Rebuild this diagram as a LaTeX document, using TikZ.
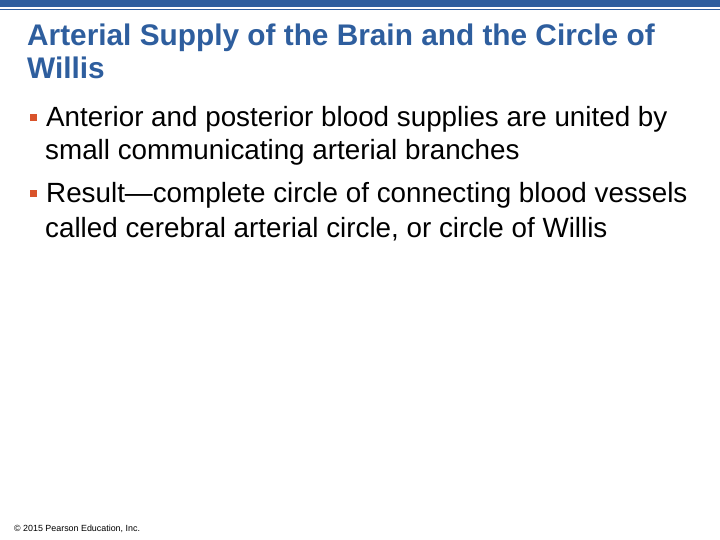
\documentclass[tikz,border=0pt]{standalone}
\usepackage{fontspec}
\setmainfont{Liberation Sans}
\definecolor{tblue}{HTML}{2E5E9E}
\definecolor{borange}{HTML}{D9532B}
\begin{document}
\begin{tikzpicture}[x=1pt,y=-1pt,
  txt/.style={anchor=base west,inner sep=0pt},
  bul/.style={fill=borange,minimum size=7pt,inner sep=0pt}]
\useasboundingbox[fill=white] (0,0) rectangle (720,540);
\fill[tblue] (0,0) rectangle (720,7);
\fill[tblue] (0,9) rectangle (720,10.5);
\node[txt,text=tblue,font=\fontsize{29.8}{34}\selectfont\bfseries] (t1) at (27,46) {Arterial Supply of the Brain and the Circle of};
\node[txt,text=tblue,font=\fontsize{29.8}{34}\selectfont\bfseries] (t2) at (27,79) {Willis};
\node[bul] (b1) at (33,118) {};
\node[txt,font=\fontsize{27.8}{32}\selectfont] (l1) at (46,127) {Anterior and posterior blood supplies are united by};
\node[txt,font=\fontsize{27.8}{32}\selectfont] (l2) at (45,160) {small communicating arterial branches};
\node[bul] (b2) at (33,194) {};
\node[txt,font=\fontsize{27.8}{32}\selectfont] (l3) at (46,203) {Result---complete circle of connecting blood vessels};
\node[txt,font=\fontsize{27.8}{32}\selectfont] (l4) at (45,237) {called cerebral arterial circle, or circle of Willis};
\node[txt,font=\fontsize{8.9}{10}\selectfont] (f) at (14,531) {© 2015 Pearson Education, Inc.};
\end{tikzpicture}
\end{document}
